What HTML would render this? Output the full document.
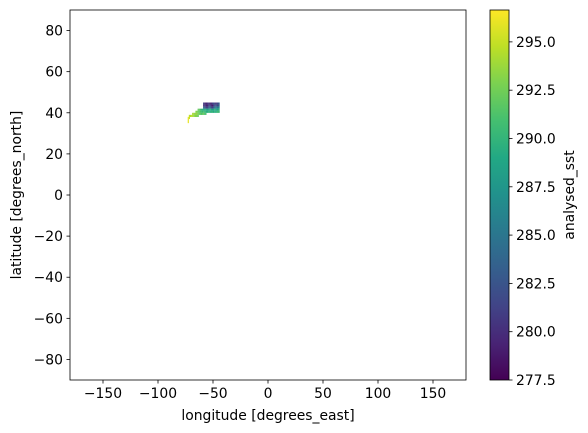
<!DOCTYPE html>
<html><head><meta charset="utf-8"><style>
body{margin:0;background:#fff;}
svg{display:block;font-family:"DejaVu Sans","Liberation Sans",sans-serif;}
</style></head><body>
<svg id="chart" width="588" height="433">
<defs><linearGradient id="vir" x1="0" y1="1" x2="0" y2="0">
<stop offset="0" stop-color="#440154"/><stop offset="0.1" stop-color="#482475"/><stop offset="0.2" stop-color="#414487"/><stop offset="0.3" stop-color="#355f8d"/><stop offset="0.4" stop-color="#2a788e"/><stop offset="0.5" stop-color="#21918c"/><stop offset="0.6" stop-color="#22a884"/><stop offset="0.7" stop-color="#44bf70"/><stop offset="0.8" stop-color="#7ad151"/><stop offset="0.9" stop-color="#bddf26"/><stop offset="1" stop-color="#fde725"/>
</linearGradient></defs>
<g id="cells"></g>
<rect x="70" y="10" width="396" height="370" fill="none" stroke="#000" stroke-width="0.8"/>
<g id="axes"></g>
<text x="268" y="420" text-anchor="middle" font-size="13.9">longitude [degrees_east]</text>
<text transform="translate(21,195) rotate(-90)" text-anchor="middle" font-size="13.9">latitude [degrees_north]</text>
<rect x="490" y="10" width="19" height="370" fill="url(#vir)" stroke="#000" stroke-width="0.8"/>
<text transform="translate(574,195) rotate(-90)" text-anchor="middle" font-size="13.9">analysed_sst</text>
</svg>
<script>
const xTicks=[-150,-100,-50,0,50,100,150];
const yTicks=[80,60,40,20,0,-20,-40,-60,-80];
const cbTicks=[277.5,280.0,282.5,285.0,287.5,290.0,292.5,295.0];
const rowLats=[44,43,42,41,40,39,38,37,36,35];
const rowStartLon=[-59,-59,-59,-64,-66,-69,-72,-73,-73,-73];
const rowValues=[
[281,280,279,280,281,280,279,280,281,282,281,280,281,282,283],
[280,281,280,279,280,282,281,280,279,281,282,283,282,281,284],
[284,283,282,281,282,284,283,282,281,283,284,285,286,285,287],
[292,292,291,290,290,289,289,290,289,288,289,290,289,288,289,290,289,288,289,290],
[293,293,292,292,291,291,290,291,290,290,289,290,290,289,290,290,289,290,289,290,291,290],
[294,294,293,294,293,293,292,292,291,292,292,291,291],
[295,294,295,294,294,293,293,293,292],
[296,295],[296],[296]
];
const vmin=277.5,vmax=296.65;
const X=l=>70+(l+180)*1.1, Y=l=>10+(90-l)*2.0556, CB=v=>380-(v-vmin)/(vmax-vmin)*370;
const stops=["#440154","#482475","#414487","#355f8d","#2a788e","#21918c","#22a884","#44bf70","#7ad151","#bddf26","#fde725"];
function col(v){let t=Math.max(0,Math.min(1,(v-vmin)/(vmax-vmin)))*10;let i=Math.min(9,Math.floor(t)),f=t-i;
const a=stops[i],b=stops[i+1];const c=k=>Math.round(parseInt(a.substr(k,2),16)*(1-f)+parseInt(b.substr(k,2),16)*f);
return `rgb(${c(1)},${c(3)},${c(5)})`;}
const NS="http://www.w3.org/2000/svg";
const cells=document.getElementById('cells'),axes=document.getElementById('axes');
function mk(tag,at,parent){const e=document.createElementNS(NS,tag);for(const k in at)e.setAttribute(k,at[k]);parent.appendChild(e);return e;}
rowLats.forEach((lat,r)=>{rowValues[r].forEach((v,i)=>{const lon=rowStartLon[r]+i;
const e=mk('rect',{x:X(lon),y:Y(lat+1),width:1.2,height:2.15,fill:col(v)},cells);

});});
xTicks.forEach(t=>{const x=X(t);mk('line',{x1:x,x2:x,y1:380,y2:383.5,stroke:'#000','stroke-width':0.8},axes);
const e=mk('text',{x:x,y:398,'text-anchor':'middle','font-size':'13.9'},axes);e.textContent=t<0?'−'+(-t):t;

});
yTicks.forEach(t=>{const y=Y(t);mk('line',{x1:66.5,x2:70,y1:y,y2:y,stroke:'#000','stroke-width':0.8},axes);
const e=mk('text',{x:63,y:y+5,'text-anchor':'end','font-size':'13.9'},axes);e.textContent=t<0?'−'+(-t):t;

});
cbTicks.forEach(t=>{const y=CB(t);mk('line',{x1:509,x2:512.5,y1:y,y2:y,stroke:'#000','stroke-width':0.8},axes);
const e=mk('text',{x:516,y:y+5,'font-size':'13.9'},axes);e.textContent=t.toFixed(1);

});
</script>
</body></html>
